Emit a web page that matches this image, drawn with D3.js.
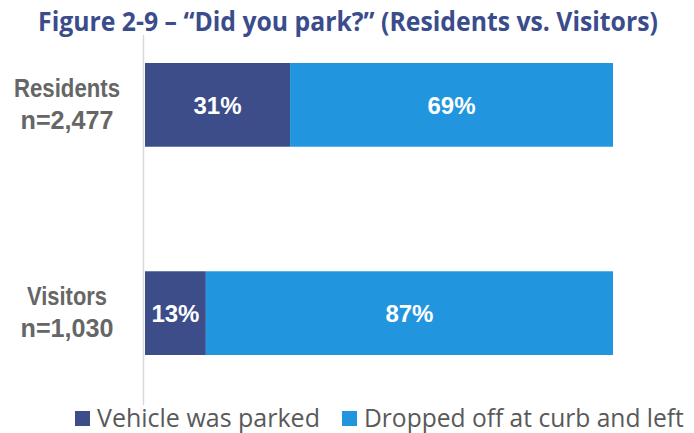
<!DOCTYPE html>
<html>
<head>
<meta charset="utf-8">
<script src="https://cdn.jsdelivr.net/npm/d3@7"></script>
<style>
  html, body { margin: 0; padding: 0; background: #fff; }
  svg { display: block; }
</style>
</head>
<body>
<svg id="chart" width="694" height="433"></svg>
<script>
// Survey groups and their shares (percent)
const groups = ["Residents", "Visitors"];
const sampleSizes = ["n=2,477", "n=1,030"];
const parked = [31, 13];
const droppedOff = [69, 87];
const seriesNames = ["Vehicle was parked", "Dropped off at curb and left"];
const seriesColors = ["#3c4d89", "#2196de"];
const titleText = "Figure 2-9 \u2013 \u201cDid you park?\u201d (Residents vs. Visitors)";

const svg = d3.select("#chart");
const plot = { left: 145, right: 613, top: 63, bottom: 355 };

const x = d3.scaleLinear().domain([0, 100]).range([plot.left, plot.right]);
const y = d3.scaleBand().domain(groups).range([plot.top, plot.bottom]).paddingInner(0.598).paddingOuter(0);

// Places a text at (px, py) and squeezes it horizontally to the given width
function fittedText(parent, px, py, width, str) {
  const g = parent.append("g");
  const t = g.append("text").attr("x", 0).attr("y", 0).text(str);
  return {
    text: t,
    fit() {
      const natural = t.node().getComputedTextLength();
      const s = Math.min(1, width / natural);
      g.attr("transform", `translate(${px},${py}) scale(${s},1)`);
      return this;
    }
  };
}

// Title
const title = fittedText(svg, 348, 31, 620, titleText);
title.text
  .attr("text-anchor", "middle")
  .attr("font-family", "'Open Sans', sans-serif")
  .attr("font-weight", 700)
  .attr("font-size", 27)
  .attr("fill", "#3a4c8c");
title.fit();

// Category axis line
svg.append("line")
  .attr("x1", x(0) - 1.5).attr("x2", x(0) - 1.5)
  .attr("y1", 35).attr("y2", 405)
  .attr("stroke", "#d9d9d9").attr("stroke-width", 1.5);

const stackData = groups.map((g, i) => ({ group: g, parked: parked[i], droppedOff: droppedOff[i] }));
const stack = d3.stack().keys(["parked", "droppedOff"])(stackData);

const layers = svg.selectAll("g.layer").data(stack).join("g")
  .attr("class", "layer")
  .attr("fill", (d, i) => seriesColors[i]);

layers.selectAll("rect").data(d => d).join("rect")
  .attr("x", d => x(d[0]))
  .attr("y", d => y(d.data.group))
  .attr("width", d => x(d[1]) - x(d[0]))
  .attr("height", y.bandwidth());

// Value labels inside segments
layers.selectAll("text").data(d => d).join("text")
  .attr("x", d => (x(d[0]) + x(d[1])) / 2)
  .attr("y", d => y(d.data.group) + y.bandwidth() / 2)
  .attr("dy", "0.36em")
  .attr("text-anchor", "middle")
  .attr("font-family", "'Liberation Sans', Arial, sans-serif")
  .attr("font-weight", 700)
  .attr("font-size", 24)
  .attr("fill", "#fff")
  .text(d => (d[1] - d[0]) + "%");

// Category labels (group name over sample size)
const nameWidths = [106, 80];
groups.forEach((g, i) => {
  const cy = y(g) + y.bandwidth() / 2;
  [[g, cy - 8, nameWidths[i]], [sampleSizes[i], cy + 24, 93]].forEach(([str, ty, w]) => {
    const lbl = fittedText(svg, 67, ty, w, str);
    lbl.text
      .attr("text-anchor", "middle")
      .attr("font-family", "'Liberation Sans', Arial, sans-serif")
      .attr("font-weight", 700)
      .attr("font-size", 26)
      .attr("fill", "#666");
    lbl.fit();
  });
});

// Legend
const legendX = [75, 342];
const legendTextW = [223, 320];
seriesNames.forEach((name, i) => {
  const g = svg.append("g").attr("transform", `translate(${legendX[i]}, 427)`);
  g.append("rect").attr("x", 0).attr("y", -16).attr("width", 15).attr("height", 15)
    .attr("fill", seriesColors[i]);
  const lbl = fittedText(g, 22, 0, legendTextW[i], name);
  lbl.text
    .attr("font-family", "'Open Sans', sans-serif")
    .attr("font-size", 25)
    .attr("fill", "#595959");
  lbl.fit();
});
</script>
</body>
</html>
